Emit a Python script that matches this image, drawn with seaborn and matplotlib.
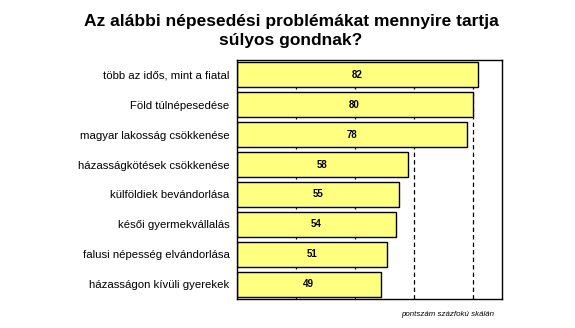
import matplotlib
matplotlib.use("Agg")
import matplotlib.pyplot as plt
import seaborn as sns
import pandas as pd

categories = [
    "több az idős, mint a fiatal",
    "Föld túlnépesedése",
    "magyar lakosság csökkenése",
    "házasságkötések csökkenése",
    "külföldiek bevándorlása",
    "késői gyermekvállalás",
    "falusi népesség elvándorlása",
    "házasságon kívüli gyerekek",
]
scores = [82, 80, 78, 58, 55, 54, 51, 49]
grid_values = [20, 40, 60, 80]

title_lines = ["Az alábbi népesedési problémákat mennyire tartja", "súlyos gondnak?"]
footnote = "pontszám százfokú skálán"

df = pd.DataFrame({"kategoria": categories, "pont": scores})

sns.set_theme(style="white")
plt.rcParams["font.family"] = ["Liberation Sans", "DejaVu Sans"]
plt.rcParams["text.color"] = "black"

W, H = 575, 328
fig = plt.figure(figsize=(W / 100, H / 100), dpi=100)
ax = fig.add_axes([236.5 / W, 1 - 299 / H, (502 - 236.5) / W, (299 - 60) / H])

for g in grid_values:
    ax.axvline(g, color="black", linestyle=(0, (3.5, 2.5)), linewidth=0.9, zorder=0)

sns.barplot(data=df, x="pont", y="kategoria", orient="h", color="#FFFF80",
            saturation=1, edgecolor="black", linewidth=1.0, width=0.84,
            ax=ax, zorder=2)

for i, v in enumerate(df["pont"]):
    ax.text(v / 2, i, f"{v}", ha="center", va="center", fontsize=7,
            fontweight="bold", color="black", zorder=3)

ax.set_xlim(0, 90)
ax.set_ylim(len(categories) - 0.5, -0.5)
ax.set_xticks([])
ax.set_xlabel("")
ax.set_ylabel("")
ax.tick_params(axis="y", length=0, labelsize=8.2, pad=5, colors="black")
for s in ax.spines.values():
    s.set_visible(True)
    s.set_color("black")
    s.set_linewidth(1.0)

for line, base_y in zip(title_lines, [26, 45]):
    fig.text(291 / W, 1 - base_y / H, line, ha="center", va="baseline",
             fontsize=12.5, fontweight="bold", color="black")
fig.text(494 / W, 1 - 315 / H, footnote, ha="right", va="center",
         fontsize=5.7, style="italic", color="black")

fig.savefig("out.png", dpi=100, facecolor="white")
